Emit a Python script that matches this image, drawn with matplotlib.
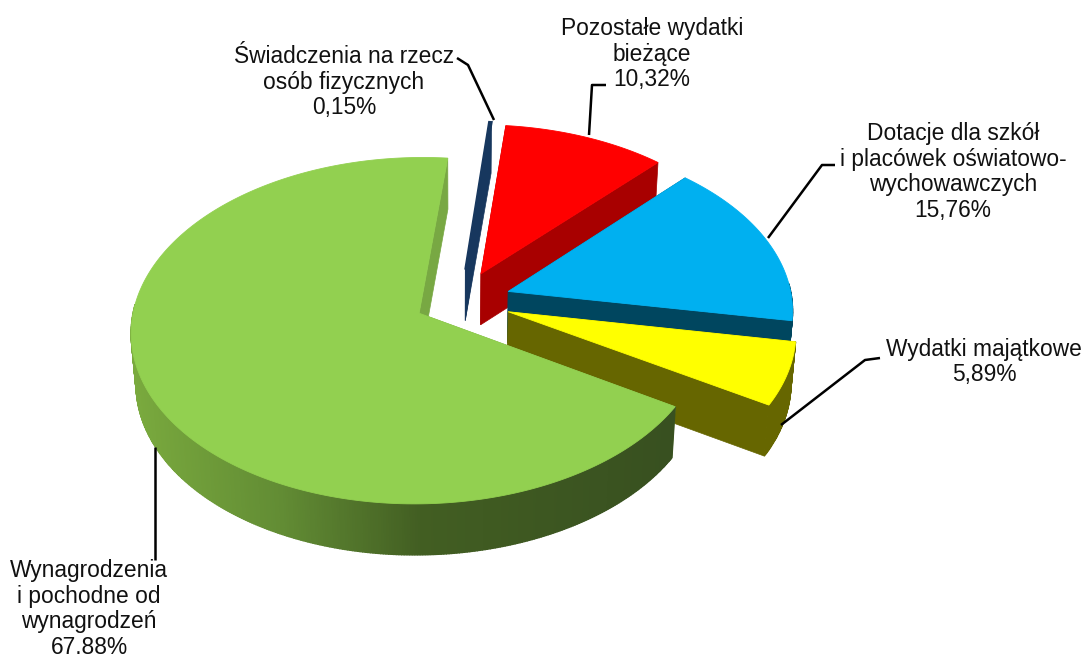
import numpy as np
import matplotlib
matplotlib.use("Agg")
import matplotlib.pyplot as plt
from matplotlib.patches import Polygon

# data (clockwise order, starting near the top of the pie)
categories = ["Świadczenia na rzecz\nosób fizycznych", "Pozostałe wydatki\nbieżące",
              "Dotacje dla szkół\ni placówek oświatowo-\nwychowawczych", "Wydatki majątkowe",
              "Wynagrodzenia\ni pochodne od\nwynagrodzeń"]
values = [0.15, 10.32, 15.76, 5.89, 67.88]
value_labels = ["0,15%", "10,32%", "15,76%", "5,89%", "67.88%"]

# styles
top_colors = ["#17375e", "#ff0000", "#00b0f0", "#ffff00", "#92d050"]
side_colors = ["#17375e", "#a80000", "#00465f", "#666600", None]
cut_colors = ["#17375e", "#a80000", "#00465f", "#666600", "#78a843"]
explode = [0.19, 0.18, 0.18, 0.18, 0.16]
start_angle = 84.5
CX, CY, A, B, K = 460, 301, 284, 169, 0.10
DEPTH, SHRINK = 51, 0.985
label_pos = [(344, 82), (652, 54), (953, 172), (984, 362), (89, 609)]
leaders = [[(457, 58), (468, 65), (494, 120)],
           [(606, 85), (592, 85), (589, 135)],
           [(835, 165), (822, 165), (768, 238)],
           [(880, 358), (865, 360), (781, 425)],
           [(155, 560), (155, 447)]]

fig = plt.figure(figsize=(10.85, 6.6), dpi=100)
ax = fig.add_axes([0, 0, 1, 1])
ax.set_xlim(0, 1085)
ax.set_ylim(660, 0)
ax.axis("off")


def project(u, v):
    s = 1 + K * v
    return CX + A * u / s, CY - B * v / s


def drop(p):
    return (CX + (p[0] - CX) * SHRINK, p[1] + DEPTH)


def green_rim(x):
    xs = [130, 280, 420, 670]
    r = np.interp(x, xs, [122, 98, 66, 56])
    g = np.interp(x, xs, [170, 140, 94, 80])
    b = np.interp(x, xs, [62, 52, 34, 32])
    return (r / 255, g / 255, b / 255)


angles = start_angle - np.concatenate([[0], np.cumsum(values)]) * 3.6
for i in range(len(values)):
    t0, t1 = np.radians(angles[i]), np.radians(angles[i + 1])
    mid = (t0 + t1) / 2
    ou, ov = explode[i] * np.cos(mid), explode[i] * np.sin(mid)
    ts = np.linspace(t0, t1, max(3, int(abs(t1 - t0) * 120)))
    rim = [project(ou + np.cos(t), ov + np.sin(t)) for t in ts]
    apex = project(ou, ov)
    # cut faces
    for end in (rim[0], rim[-1]):
        ax.add_patch(Polygon([apex, end, drop(end), drop(apex)], closed=True,
                             fc=cut_colors[i], ec=cut_colors[i], lw=0.5, zorder=i * 3 + 1))
    # outer wall, shaded per segment
    for j in range(len(rim) - 1):
        if np.sin((ts[j] + ts[j + 1]) / 2) > 0.05:
            continue
        p, q = rim[j], rim[j + 1]
        col = side_colors[i] or green_rim((p[0] + q[0]) / 2)
        ax.add_patch(Polygon([p, q, drop(q), drop(p)], closed=True, fc=col, ec=col,
                             lw=1.0, zorder=i * 3 + 2))
    # top face
    ax.add_patch(Polygon([apex] + rim, closed=True, fc=top_colors[i], ec=top_colors[i],
                         lw=0.6 if i else 1.6, zorder=i * 3 + 3))

for name, val, pos, lead in zip(categories, value_labels, label_pos, leaders):
    ax.text(pos[0], pos[1], name + "\n" + val, ha="center", va="center", multialignment="center",
            fontsize=16.4, family="Liberation Sans", color="#111111", linespacing=1.16, zorder=30)
    xs, ys = zip(*lead)
    ax.plot(xs, ys, color="black", lw=1.8, zorder=29, solid_capstyle="butt")

fig.savefig("out.png", dpi=100, facecolor="white")
